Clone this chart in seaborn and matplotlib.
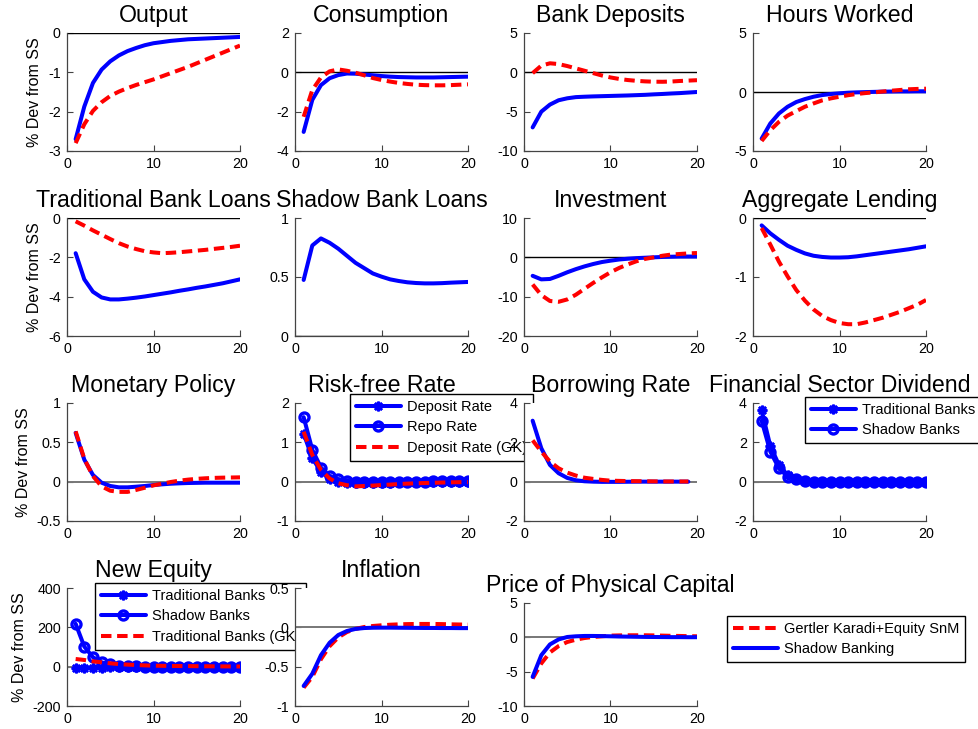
import matplotlib
matplotlib.use("Agg")
import matplotlib.pyplot as plt
import seaborn as sns
from matplotlib.ticker import FormatStrFormatter

# horizon (quarters)
periods = list(range(1, 21))

# ---- impulse responses ----
output_sb = [-2.70, -1.87, -1.27, -0.93, -0.72, -0.57, -0.46, -0.38, -0.31, -0.26,
             -0.23, -0.20, -0.18, -0.16, -0.15, -0.14, -0.13, -0.12, -0.11, -0.10]
output_gk = [-2.80, -2.32, -1.98, -1.76, -1.60, -1.49, -1.40, -1.32, -1.25, -1.18,
             -1.10, -1.02, -0.94, -0.86, -0.77, -0.68, -0.59, -0.50, -0.41, -0.32]

cons_sb = [-3.03, -1.40, -0.65, -0.30, -0.14, -0.06, -0.07, -0.11, -0.15, -0.19,
           -0.22, -0.24, -0.25, -0.26, -0.26, -0.26, -0.25, -0.24, -0.23, -0.22]
cons_gk = [-2.26, -0.90, -0.26, 0.05, 0.15, 0.08, -0.02, -0.15, -0.29, -0.39,
           -0.47, -0.54, -0.59, -0.63, -0.65, -0.66, -0.66, -0.65, -0.63, -0.61]

dep_sb = [-7.0, -5.0, -4.1, -3.55, -3.3, -3.15, -3.1, -3.06, -3.03, -3.0,
          -2.97, -2.94, -2.9, -2.86, -2.8, -2.75, -2.69, -2.64, -2.57, -2.5]
dep_gk = [-0.1, 0.85, 1.15, 1.05, 0.8, 0.5, 0.2, -0.1, -0.4, -0.65,
          -0.84, -0.98, -1.08, -1.15, -1.19, -1.2, -1.17, -1.1, -1.05, -1.0]

hours_sb = [-3.95, -2.67, -1.82, -1.25, -0.85, -0.6, -0.4, -0.26, -0.17, -0.11,
            -0.06, -0.03, -0.01, 0.01, 0.03, 0.04, 0.05, 0.05, 0.06, 0.06]
hours_gk = [-4.15, -3.24, -2.53, -2.0, -1.62, -1.25, -0.97, -0.71, -0.54, -0.4,
            -0.27, -0.17, -0.09, -0.03, 0.04, 0.11, 0.17, 0.23, 0.26, 0.28]

tradloan_sb = [-1.79, -3.12, -3.75, -4.04, -4.14, -4.14, -4.1, -4.05, -3.99, -3.92,
               -3.85, -3.78, -3.7, -3.63, -3.55, -3.48, -3.4, -3.32, -3.22, -3.12]
tradloan_gk = [-0.17, -0.39, -0.63, -0.85, -1.07, -1.28, -1.45, -1.58, -1.69, -1.75,
               -1.79, -1.77, -1.74, -1.7, -1.66, -1.62, -1.57, -1.52, -1.47, -1.41]

shadowloan_sb = [0.475, 0.767, 0.827, 0.79, 0.74, 0.68, 0.62, 0.575, 0.53, 0.503,
                 0.48, 0.466, 0.455, 0.449, 0.446, 0.446, 0.448, 0.452, 0.455, 0.458]

invest_sb = [-4.7, -5.6, -5.5, -4.7, -3.8, -3.0, -2.3, -1.7, -1.2, -0.85,
             -0.55, -0.35, -0.2, -0.1, 0.0, 0.1, 0.15, 0.2, 0.2, 0.2]
invest_gk = [-6.9, -9.6, -11.1, -11.3, -10.7, -9.5, -8.0, -6.5, -5.1, -3.8,
             -2.7, -1.8, -1.0, -0.4, 0.0, 0.4, 0.7, 0.85, 1.0, 1.1]

lending_sb = [-0.125, -0.26, -0.37, -0.47, -0.54, -0.6, -0.64, -0.66, -0.67, -0.67,
              -0.665, -0.65, -0.63, -0.61, -0.59, -0.57, -0.55, -0.53, -0.505, -0.48]
lending_gk = [-0.17, -0.45, -0.74, -0.99, -1.22, -1.4, -1.55, -1.66, -1.73, -1.78,
              -1.8, -1.8, -1.77, -1.73, -1.69, -1.64, -1.59, -1.53, -1.47, -1.39]

policy_sb = [0.62, 0.28, 0.085, -0.013, -0.055, -0.072, -0.072, -0.064, -0.055, -0.043,
             -0.034, -0.026, -0.021, -0.017, -0.015, -0.013, -0.013, -0.013, -0.013, -0.013]
policy_gk = [0.64, 0.29, 0.07, -0.06, -0.115, -0.13, -0.13, -0.105, -0.077, -0.047,
             -0.026, -0.004, 0.013, 0.026, 0.036, 0.043, 0.048, 0.051, 0.053, 0.055]

rf_deposit = [1.22, 0.6, 0.25, 0.08, 0.0, -0.03, -0.04, -0.04, -0.035, -0.03,
              -0.025, -0.02, -0.016, -0.013, -0.01, -0.008, -0.006, -0.005, -0.004, -0.003]
rf_repo = [1.64, 0.81, 0.36, 0.14, 0.06, 0.02, 0.0, -0.01, -0.01, -0.01,
           -0.01, -0.005, 0.0, 0.0, 0.0, 0.005, 0.005, 0.005, 0.005, 0.005]
rf_deposit_gk = [1.27, 0.68, 0.3, 0.08, -0.04, -0.09, -0.12, -0.11, -0.1, -0.085,
                 -0.075, -0.06, -0.05, -0.042, -0.034, -0.028, -0.022, -0.017, -0.013, -0.01]

borrow_sb = [3.1, 1.7, 0.85, 0.43, 0.19, 0.07, 0.02, 0.0, -0.01, -0.01,
             -0.01, -0.005, 0.0, 0.0, 0.0, 0.0, 0.0, 0.0, 0.0]
borrow_gk = [2.1, 1.53, 1.02, 0.68, 0.46, 0.31, 0.2, 0.14, 0.09, 0.05,
             0.04, 0.03, 0.025, 0.02, 0.015, 0.01, 0.01, 0.01, 0.01]

div_trad = [3.62, 1.82, 0.85, 0.34, 0.12, 0.03, 0.0, 0.0, 0.0, 0.0,
            0.0, 0.0, 0.0, 0.0, 0.0, 0.0, 0.0, 0.0, 0.0, 0.0]
div_shadow = [3.1, 1.53, 0.68, 0.26, 0.12, 0.03, -0.02, -0.03, -0.03, -0.03,
              -0.03, -0.03, -0.02, -0.02, -0.02, -0.02, -0.02, -0.02, -0.02, -0.02]

equity_trad = [-8.5, -7.5, -6.0, -4.5, -3.5, -2.5, -2.0, -1.5, -1.0, -0.8,
               -0.6, -0.5, -0.4, -0.3, -0.2, -0.2, -0.1, -0.1, -0.1, 0.0]
equity_shadow = [218, 102, 48, 22, 12, 5, 2, 1, 0.5, 0.0,
                 0.0, 0.0, 0.0, 0.0, 0.0, 0.0, 0.0, 0.0, 0.0, 0.0]
equity_trad_gk = [39, 34, 27, 22, 17, 13, 10.5, 8.5, 6.5, 5.0,
                  4.3, 3.7, 3.3, 2.9, 2.5, 2.1, 1.8, 1.5, 1.2, 1.0]

infl_sb = [-0.745, -0.59, -0.354, -0.196, -0.098, -0.047, -0.02, -0.009, -0.005, -0.004,
           -0.004, -0.005, -0.006, -0.007, -0.008, -0.008, -0.009, -0.009, -0.01, -0.01]
infl_gk = [-0.767, -0.63, -0.405, -0.24, -0.128, -0.06, -0.02, 0.004, 0.017, 0.026,
           0.033, 0.038, 0.041, 0.043, 0.043, 0.043, 0.041, 0.038, 0.036, 0.034]

price_sb = [-5.76, -2.6, -1.03, -0.3, 0.05, 0.15, 0.2, 0.2, 0.18, 0.15,
            0.12, 0.1, 0.08, 0.06, 0.05, 0.04, 0.03, 0.03, 0.02, 0.02]
price_gk = [-6.0, -3.8, -2.2, -1.27, -0.68, -0.34, -0.1, 0.05, 0.15, 0.25,
            0.28, 0.3, 0.3, 0.3, 0.28, 0.25, 0.22, 0.2, 0.17, 0.15]

# ---- styling ----
sns.set_style("white")
plt.rcParams["font.family"] = ["Liberation Sans", "DejaVu Sans"]
plt.rcParams["axes.unicode_minus"] = False
plt.rcParams["text.color"] = "black"
plt.rcParams["axes.labelcolor"] = "black"
plt.rcParams["xtick.color"] = "black"
plt.rcParams["ytick.color"] = "black"

BLUE = "#0000ff"
RED = "#ff0000"
LW = 2.9
styles = {
    "sb": dict(color=BLUE, linewidth=LW, linestyle="-"),
    "gk": dict(color=RED, linewidth=LW, linestyle=(0, (2.6, 1.4))),
    "star": dict(color=BLUE, linewidth=LW, linestyle="-", marker=(8, 2, 0),
                 markersize=7, mew=1.8, mec=BLUE),
    "circ": dict(color=BLUE, linewidth=LW, linestyle="-", marker="o",
                 markersize=6.5, mfc="none", mew=2.4, mec=BLUE),
}

# title, (col, row), ylim, yticks, [(values, style, label)], legend corner (px)
panels = [
    ("Output", (0, 0), (-3, 0), [-3, -2, -1, 0],
     [(output_sb, "sb", None), (output_gk, "gk", None)], None),
    ("Consumption", (1, 0), (-4, 2), [-4, -2, 0, 2],
     [(cons_sb, "sb", None), (cons_gk, "gk", None)], None),
    ("Bank Deposits", (2, 0), (-10, 5), [-10, -5, 0, 5],
     [(dep_sb, "sb", None), (dep_gk, "gk", None)], None),
    ("Hours Worked", (3, 0), (-5, 5), [-5, 0, 5],
     [(hours_sb, "sb", None), (hours_gk, "gk", None)], None),
    ("Traditional Bank Loans", (0, 1), (-6, 0), [-6, -4, -2, 0],
     [(tradloan_sb, "sb", None), (tradloan_gk, "gk", None)], None),
    ("Shadow Bank Loans", (1, 1), (0, 1), [0, 0.5, 1],
     [(shadowloan_sb, "sb", None)], None),
    ("Investment", (2, 1), (-20, 10), [-20, -10, 0, 10],
     [(invest_sb, "sb", None), (invest_gk, "gk", None)], None),
    ("Aggregate Lending", (3, 1), (-2, 0), [-2, -1, 0],
     [(lending_sb, "sb", None), (lending_gk, "gk", None)], None),
    ("Monetary Policy", (0, 2), (-0.5, 1), [-0.5, 0, 0.5, 1],
     [(policy_sb, "sb", None), (policy_gk, "gk", None)], None),
    ("Risk-free Rate", (1, 2), (-1, 2), [-1, 0, 1, 2],
     [(rf_deposit, "star", "Deposit Rate"), (rf_repo, "circ", "Repo Rate"),
      (rf_deposit_gk, "gk", "Deposit Rate (GK)")], (350, 394)),
    ("Borrowing Rate", (2, 2), (-2, 4), [-2, 0, 2, 4],
     [(borrow_sb, "sb", None), (borrow_gk, "gk", None)], None),
    ("Financial Sector Dividend", (3, 2), (-2, 4), [-2, 0, 2, 4],
     [(div_trad, "star", "Traditional Banks"), (div_shadow, "circ", "Shadow Banks")],
     (805, 397)),
    ("New Equity", (0, 3), (-200, 400), [-200, 0, 200, 400],
     [(equity_trad, "star", "Traditional Banks"), (equity_shadow, "circ", "Shadow Banks"),
      (equity_trad_gk, "gk", "Traditional Banks (GK)")], (95, 583)),
    ("Inflation", (1, 3), (-1, 0.5), [-1, -0.5, 0, 0.5],
     [(infl_gk, "gk", None), (infl_sb, "sb", None)], None),
    ("Price of Physical Capital", (2, 3), (-10, 5), [-10, -5, 0, 5],
     [(price_gk, "gk", "Gertler Karadi+Equity SnM"), (price_sb, "sb", "Shadow Banking")],
     (727, 616)),
]

W, H = 979, 729
col_left = [67, 295, 524, 753]
row_top = [33, 218, 403, 588]
AX_W, AX_H = 173, 118

fig = plt.figure(figsize=(W / 100, H / 100), dpi=100)

for title, (c, r), ylim, yticks, series, leg in panels:
    left, top, height = col_left[c], row_top[r], AX_H
    if title == "Price of Physical Capital":
        top, height = 603, 103
    ax = fig.add_axes([left / W, 1 - (top + height) / H, AX_W / W, height / H])

    zero_col = "black" if r < 2 else "#777777"
    ax.axhline(0, color=zero_col, lw=1.0 if r < 2 else 1.4, zorder=1)

    handles = []
    for vals, sty, lab in series:
        sns.lineplot(x=periods[:len(vals)], y=vals, ax=ax, label=lab, legend=False,
                     **styles[sty])
        handles.append(ax.lines[-1])

    ax.set_xlim(0, 20)
    ax.set_xticks([0, 10, 20])
    ax.set_ylim(*ylim)
    ax.set_yticks(yticks)
    ax.yaxis.set_major_formatter(FormatStrFormatter("%g"))
    ax.set_title(title, fontsize=16.7, pad=8, color="black")
    ax.set_xlabel("")
    ax.set_ylabel("% Dev from SS" if c == 0 else "", fontsize=11.5, labelpad=4)

    for side in ["top", "right"]:
        ax.spines[side].set_visible(False)
    for side in ["left", "bottom"]:
        ax.spines[side].set_color("#444444")
        ax.spines[side].set_linewidth(0.9)
    ax.tick_params(direction="in", length=4, width=0.8, color="#444444",
                   labelcolor="black", labelsize=10.3, pad=4.5, left=True, bottom=True)

    if leg is not None:
        lx, ly = leg
        lg = ax.legend(handles=handles, labels=[s[2] for s in series],
                       loc="upper left", bbox_to_anchor=(lx / W, 1 - ly / H),
                       bbox_transform=fig.transFigure, borderaxespad=0,
                       fontsize=10.5, handlelength=3.1, handletextpad=0.4,
                       borderpad=0.4, labelspacing=0.45, numpoints=1,
                       fancybox=False, framealpha=1, edgecolor="black")
        lg.get_frame().set_linewidth(1.0)
        for t in lg.get_texts():
            t.set_color("black")

fig.savefig("out.png", dpi=100)
